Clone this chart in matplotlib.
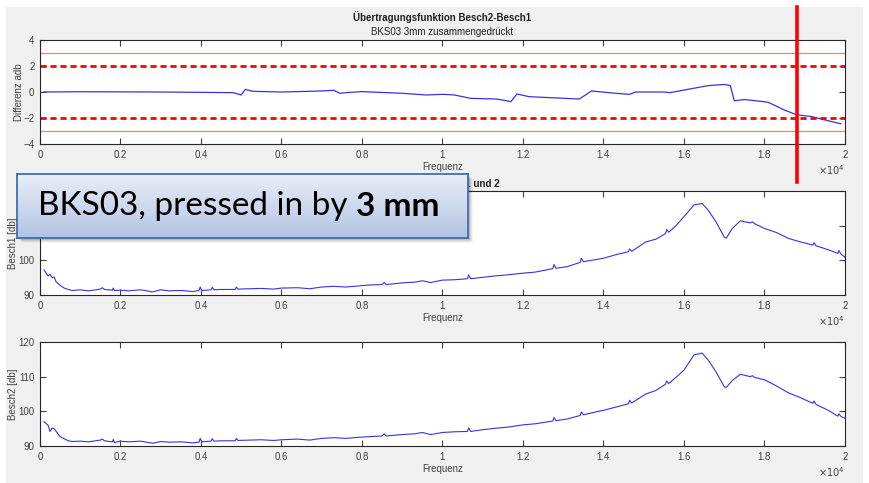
import numpy as np
import matplotlib
matplotlib.use('Agg')
import matplotlib.pyplot as plt
from matplotlib.ticker import FuncFormatter, MultipleLocator
from matplotlib.patches import Rectangle

plt.rcParams['font.family'] = ['Liberation Sans', 'DejaVu Sans']

# difference Besch2 - Besch1 (dB) over frequency (Hz)
diff_freq = [100, 1000, 3000, 4800, 5000, 5100, 5300, 6000, 7000, 7300, 7450, 7600,
             8000, 9000, 9600, 10000, 10300, 10700, 11350, 11700, 11850, 12150,
             13400, 13700, 14300, 14650, 14800, 15500, 15650, 16000, 16600, 17000,
             17150, 17250, 17500, 18000, 18100, 18500, 18800, 19150, 19500, 19900]
diff_vals = [0.0, 0.02, 0.0, -0.05, -0.23, 0.2, 0.05, 0.0, 0.08, 0.13, -0.1, -0.05,
             0.03, -0.1, -0.23, -0.18, -0.23, -0.49, -0.54, -0.74, -0.15, -0.36,
             -0.54, 0.08, -0.1, -0.18, 0.0, 0.0, -0.05, 0.15, 0.49, 0.58,
             0.5, -0.68, -0.58, -0.75, -0.8, -1.4, -1.75, -1.88, -2.15, -2.45]

marker_freq = 18800
tol_inner = 2
tol_outer = 3

besch1_freq = [100, 200, 250, 300, 350, 400, 500, 600, 700, 800, 1000, 1200, 1500, 1550,
               1600, 1800, 1820, 1850, 2000, 2200, 2500, 2800, 3000, 3200, 3500, 3800,
               3950, 3980, 4020, 4250, 4280, 4320, 4500, 4850, 4880, 4920, 5200, 5500,
               5800, 6000, 6400, 6700, 7000, 7300, 7600, 7900, 8200, 8500, 8550, 8600,
               9000, 9300, 9500, 9700, 10000, 10300, 10620, 10650, 10700, 11000, 11300,
               11600, 12000, 12300, 12740, 12770, 12820, 13100, 13420, 13450, 13500,
               13800, 14000, 14300, 14620, 14650, 14700, 15050, 15300, 15540, 15570,
               15620, 15800, 16000, 16250, 16450, 16600, 16800, 17000, 17050, 17200,
               17400, 17650, 17700, 17750, 18000, 18300, 18600, 18900, 19200, 19230,
               19280, 19600, 19820, 19850, 19900, 20000]
besch1_vals = [97.2, 95.5, 96.0, 95.0, 95.2, 93.8, 92.8, 92.0, 91.6, 91.3, 91.5, 91.2, 91.7,
               92.1, 91.6, 91.4, 92.0, 91.3, 91.4, 91.2, 91.5, 90.9, 91.5, 91.2, 91.3, 91.0,
               91.3, 92.3, 91.3, 91.5, 92.2, 91.5, 91.6, 91.6, 92.3, 91.7, 91.8, 91.9,
               91.7, 92.0, 92.1, 91.8, 92.3, 92.5, 92.3, 92.6, 92.9, 93.0, 93.6, 93.0,
               93.5, 93.7, 94.1, 93.6, 94.3, 94.4, 94.7, 95.8, 94.7, 95.1, 95.5,
               95.8, 96.3, 96.6, 97.6, 98.8, 97.7, 98.2, 99.4, 100.6, 99.6,
               100.2, 100.6, 101.6, 102.5, 103.3, 102.6, 105.3, 106.1, 107.7, 108.9,
               108.1, 110.0, 112.6, 116.0, 116.4, 114.5, 111.0, 106.7, 106.4, 109.2,
               111.4, 110.8, 111.1, 110.6, 109.2, 108.0, 106.3, 105.3, 104.4, 105.1,
               104.2, 103.0, 102.0, 102.8, 101.8, 100.9]

besch2_freq = [100, 200, 250, 300, 350, 500, 700, 800, 1000, 1200, 1500, 1550, 1600, 1800,
               1820, 1850, 2000, 2200, 2500, 2800, 3000, 3200, 3500, 3800, 3950, 3980,
               4020, 4250, 4280, 4320, 4500, 4850, 4880, 4920, 5200, 5500, 5800, 6000,
               6400, 6700, 7000, 7300, 7600, 7900, 8200, 8500, 8550, 8600, 9000, 9300,
               9500, 9700, 10000, 10300, 10620, 10650, 10700, 11000, 11300, 11600,
               12000, 12300, 12740, 12770, 12820, 13100, 13420, 13450, 13500, 13800,
               14000, 14300, 14620, 14650, 14700, 15050, 15300, 15540, 15570, 15620,
               15800, 16000, 16250, 16450, 16600, 16800, 17000, 17050, 17200, 17400,
               17650, 17700, 17750, 18000, 18300, 18600, 18900, 19200, 19230, 19280,
               19600, 19820, 19850, 19900, 20000]
besch2_vals = [97.0, 96.0, 94.2, 95.2, 95.0, 92.7, 91.5, 91.3, 91.4, 91.2, 91.7, 92.0, 91.5,
               91.2, 91.9, 91.0, 91.4, 91.2, 91.4, 90.8, 91.3, 91.1, 91.2, 90.9, 91.1, 92.2,
               91.2, 91.4, 92.1, 91.4, 91.5, 91.5, 92.2, 91.6, 91.7, 91.8, 91.6, 91.8,
               92.0, 91.7, 92.2, 92.4, 92.2, 92.5, 92.7, 92.9, 93.5, 92.9, 93.3, 93.5,
               93.9, 93.3, 93.9, 94.1, 94.2, 95.2, 94.2, 94.7, 95.1, 95.4,
               96.1, 96.4, 97.2, 98.2, 97.3, 97.8, 98.8, 99.8, 99.0, 99.8,
               100.3, 101.2, 102.2, 103.2, 102.4, 105.0, 106.0, 107.8, 108.8, 108.0,
               109.8, 111.9, 116.3, 116.8, 114.8, 111.3, 107.1, 106.9, 108.9, 110.7,
               110.0, 110.3, 109.8, 109.1, 107.3, 105.3, 103.9, 102.3, 103.0, 102.0,
               100.2, 98.6, 99.3, 98.5, 98.0]

W, H = 870, 483
fig = plt.figure(figsize=(W / 100, H / 100), dpi=100)
fig.patch.set_facecolor('white')
fig.patches.append(Rectangle((6 / W, 0), 857 / W, 1 - 7 / H, transform=fig.transFigure,
                             facecolor='#f0f0f0', edgecolor='none', zorder=-10))

axcol = '#262626'
tickcol = '#404040'
linecol = '#3333e6'


def px_axes(top, bottom):
    return fig.add_axes([40 / W, 1 - bottom / H, 805 / W, (bottom - top) / H])


def style(ax, label, label_x):
    ax.set_xlim(0, 20000)
    ax.xaxis.set_major_locator(MultipleLocator(2000))
    ax.xaxis.set_major_formatter(FuncFormatter(lambda v, p: f'{v / 1e4:g}'))
    ax.tick_params(direction='in', top=True, right=True, length=4, width=0.8,
                   labelsize=7, colors=tickcol, pad=4)
    for s in ax.spines.values():
        s.set_color(axcol)
        s.set_linewidth(0.8)
    ax.set_xlabel('Frequenz', fontsize=7, color=tickcol, labelpad=2)
    ax.set_ylabel(label, fontsize=7, color=tickcol)
    ax.yaxis.set_label_coords((label_x - 40) / 805, 0.5)
    ax.text(1.0, -0.25, r'$\times 10^4$', transform=ax.transAxes, ha='right', va='center',
            fontsize=7, color=tickcol)


ax1 = px_axes(40, 144)
ax1.plot(diff_freq, diff_vals, color=linecol, lw=0.9)
for s in (1, -1):
    ax1.axhline(s * tol_outer, color='#d98a8a', lw=0.9)
    ax1.axhline(s * tol_inner, color='#ff0000', lw=2, ls=(0, (2.2, 1.4)))
ax1.set_ylim(-4, 4)
ax1.yaxis.set_major_locator(MultipleLocator(2))
style(ax1, 'Differenz adb', 24)
fig.text(442 / W, 1 - 17 / H, 'Übertragungsfunktion Besch2-Besch1', ha='center', va='center',
         fontsize=7, fontweight='bold', color='#202020')
fig.text(442 / W, 1 - 32 / H, 'BKS03 3mm zusammengedrückt', ha='center', va='center',
         fontsize=7, color='#202020')
ax1.axvline(marker_freq, ymin=-0.365, ymax=1.317, clip_on=False, color='#ff0000', lw=2.6,
            zorder=20)

ax2 = px_axes(191, 295)
ax2.plot(besch1_freq, besch1_vals, color=linecol, lw=0.8)
ax2.set_ylim(90, 120)
ax2.yaxis.set_major_locator(MultipleLocator(10))
style(ax2, 'Besch1 [db]', 18)
ax2.set_title('Beschleunigung 1 und 2', fontsize=7, fontweight='bold', color='#202020', pad=3)

ax3 = px_axes(342, 446)
ax3.plot(besch2_freq, besch2_vals, color=linecol, lw=0.8)
ax3.set_ylim(90, 120)
ax3.yaxis.set_major_locator(MultipleLocator(10))
style(ax3, 'Besch2 [db]', 18)

# callout box
bx0, by0, bx1, by1 = 17, 174, 468, 238
for i, a in enumerate([0.10, 0.08, 0.06, 0.04]):
    fig.patches.append(Rectangle(((bx0 + 2 + i) / W, 1 - (by1 + 2 + i) / H),
                                 (bx1 - bx0) / W, (by1 - by0) / H, transform=fig.transFigure,
                                 facecolor='black', alpha=a, edgecolor='none', zorder=30))
bax = fig.add_axes([bx0 / W, 1 - by1 / H, (bx1 - bx0) / W, (by1 - by0) / H], zorder=40)
top_c = np.array([0.91, 0.93, 0.97])
bot_c = np.array([0.70, 0.77, 0.89])
t = np.linspace(0, 1, 64)[:, None, None]
grad = (top_c * (1 - t) + bot_c * t) * np.ones((1, 2, 3))
bax.imshow(grad, aspect='auto', extent=[0, 1, 0, 1], interpolation='bilinear')
bax.set_xticks([])
bax.set_yticks([])
for s in bax.spines.values():
    s.set_color('#3f6fae')
    s.set_linewidth(1.3)

t1 = bax.text(21 / (bx1 - bx0), 0.5, 'BKS03, pressed in by ', transform=bax.transAxes,
              fontsize=24, family=['Lato', 'DejaVu Sans'], va='center', ha='left', color='black')
fig.canvas.draw()
ext = t1.get_window_extent(fig.canvas.get_renderer())
x_end = bax.transAxes.inverted().transform((ext.x1, ext.y0))[0]
bax.text(x_end, 0.5, '3 mm', transform=bax.transAxes, fontsize=24, fontweight='bold',
         family=['Lato', 'DejaVu Sans'], va='center', ha='left', color='black')

fig.savefig('out.png', dpi=100, facecolor=fig.get_facecolor())
